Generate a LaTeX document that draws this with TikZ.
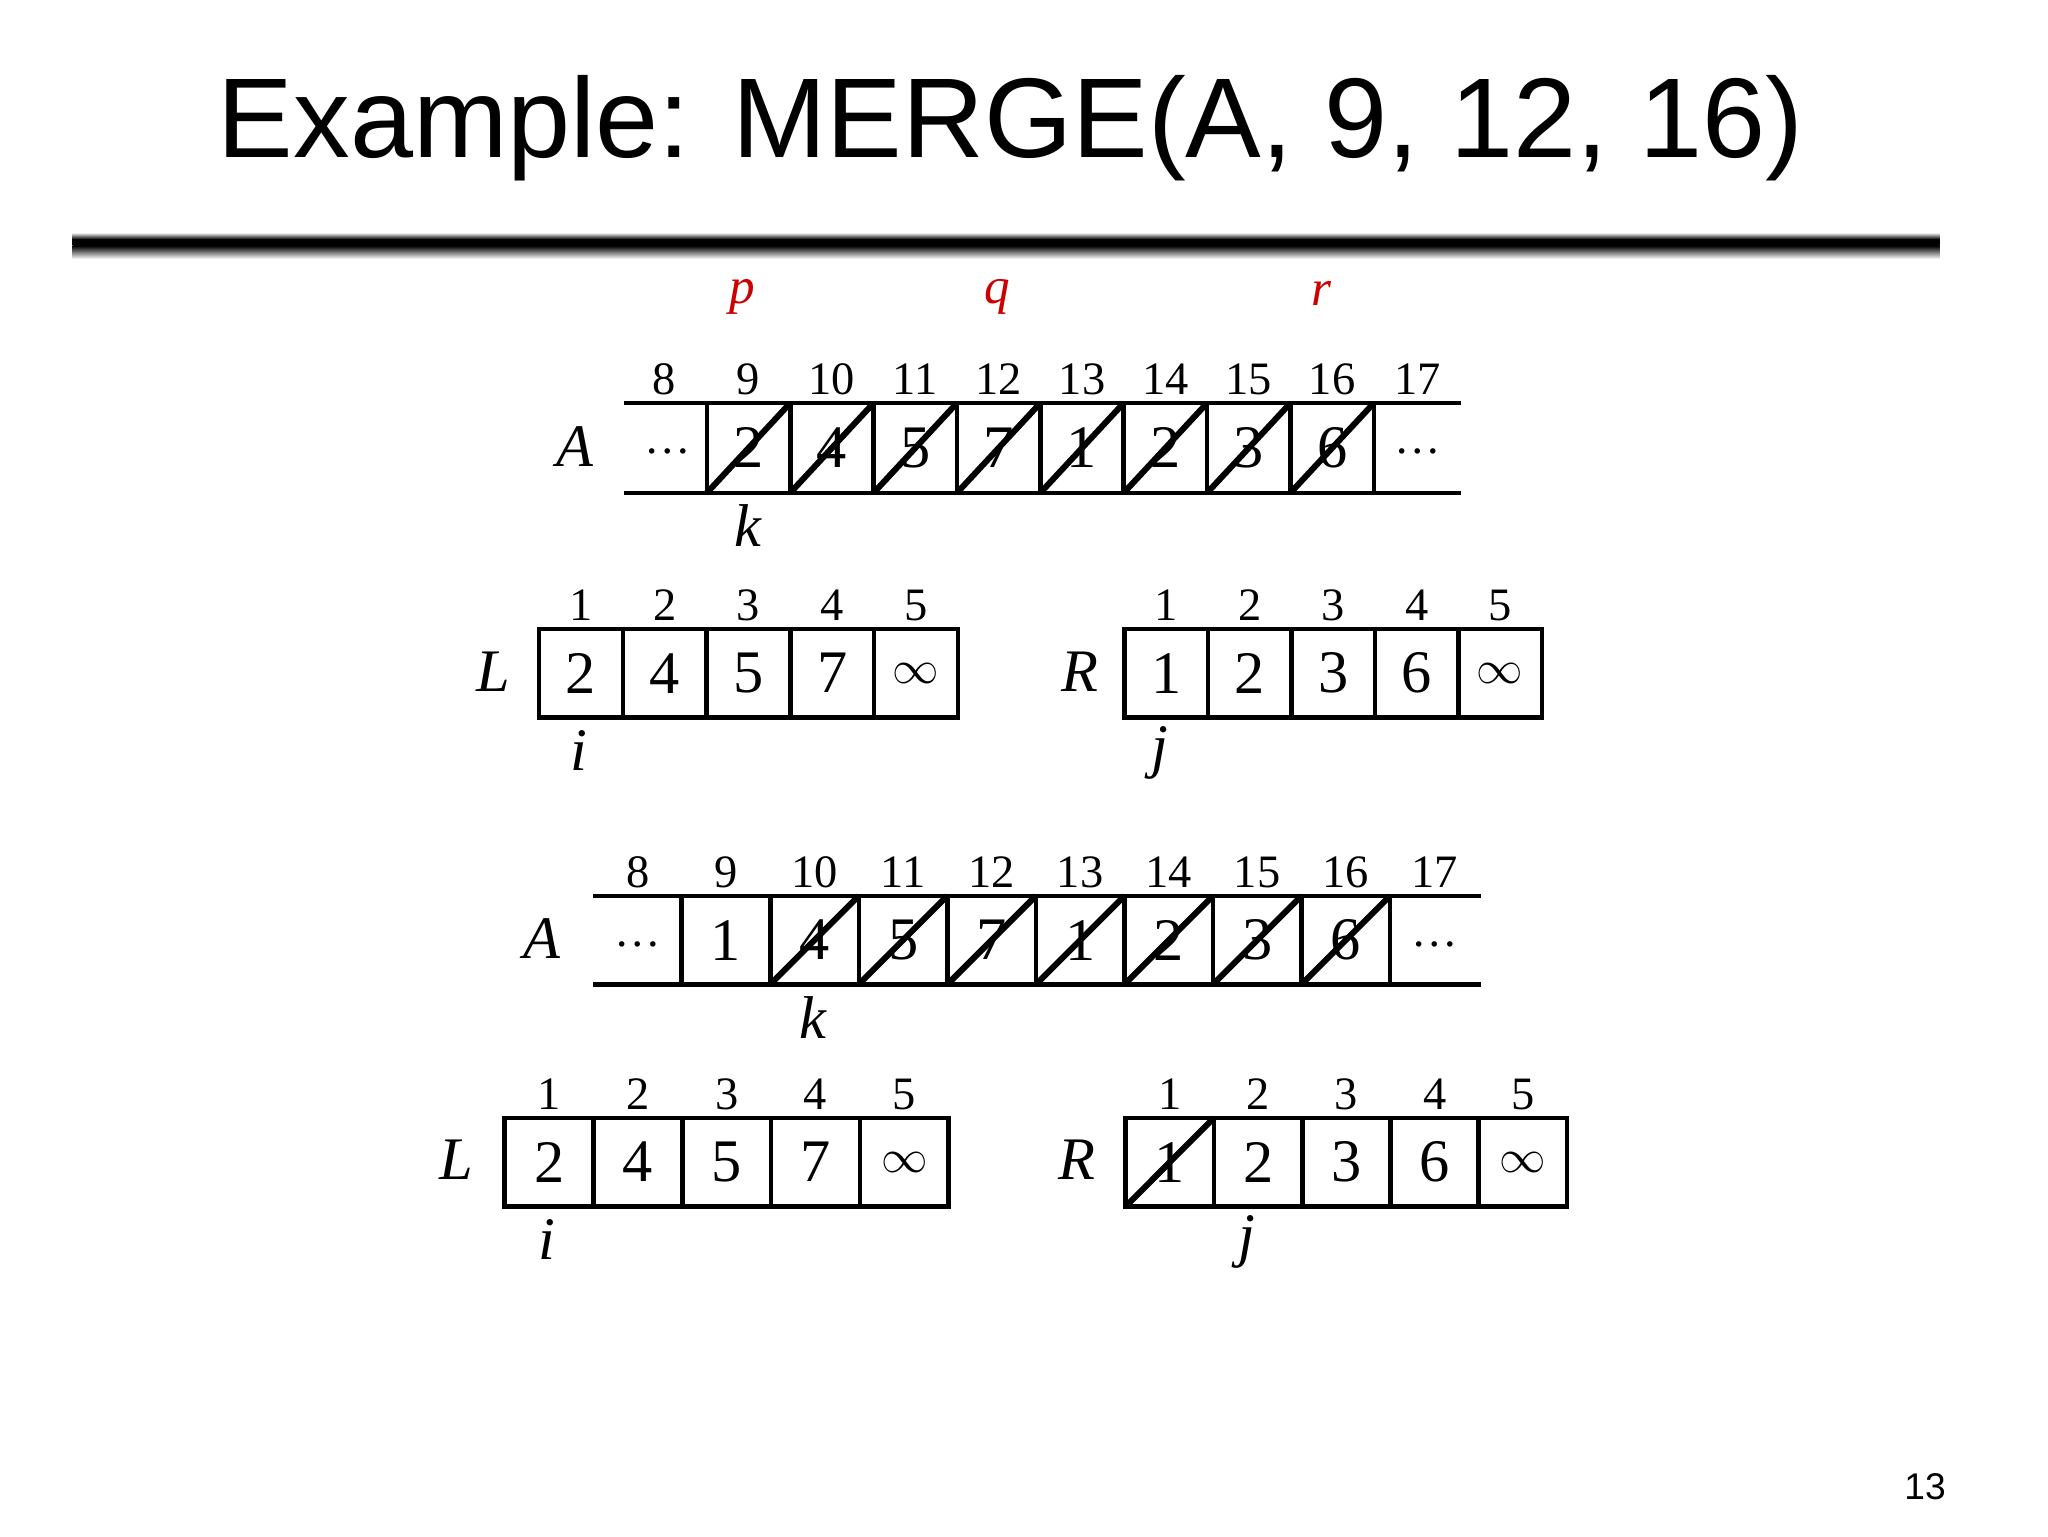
\documentclass[tikz,border=0pt]{standalone}
\usepackage{fontspec}
\setmainfont{Liberation Serif}
\newfontfamily\arialf{Liberation Sans}
\newcommand\inff{{\fontsize{10}{10}\selectfont$\infty$}}
\begin{document}
\begin{tikzpicture}[x=0.01cm,y=-0.01cm,
  cellbox/.style={draw,line width=1pt},
  strike/.style={line width=1.3pt},
  val/.style={font=\fontsize{13}{13}\selectfont},
  idx/.style={font=\fontsize{10}{10}\selectfont},
  lab/.style={font=\fontsize{13}{13}\selectfont\itshape},
  redlab/.style={font=\fontsize{11}{11}\selectfont\itshape,text=red!80!black}]
\useasboundingbox (0,0) rectangle (1550,1162.5);
\node[font=\arialf\fontsize{24.4}{26}\selectfont] (title) at (765,97) {Example: MERGE(A, 9, 12, 16)};
\shade[top color=white,bottom color=black,middle color=black] (55,176) rectangle (1468,186);
\shade[top color=black,bottom color=white] (55,186) rectangle (1468,196);
\node[font=\arialf\fontsize{8}{9}\selectfont] (pg) at (1457,1125) {13};
\node[redlab] (p) at (562,225) {p};
\node[redlab] (q) at (755,225) {q};
\node[redlab] (r) at (1000,222) {r};
\newcommand\myarr[6]{%
  \foreach \n/\v/\c [count=\k from 0] in {#6} {
    \pgfmathsetmacro\xa{#2+\k*#3}
    \pgfmathsetmacro\xb{#2+(\k+1)*#3}
    \draw[cellbox] (\xa,#4) rectangle (\xb,#5);
    \node[val] (#1v\k) at ({(\xa+\xb)/2},{(#4+#5)/2}) {\v};
    \node[idx] (#1i\k) at ({(\xa+\xb)/2},{#4-18}) {\n};
    \ifnum\c=1 \draw[strike] (\xa,#5) -- (\xb,#4);\fi
  }}
% first A
\draw[line width=1pt] (472,305) -- (1106,305) (472,373) -- (1106,373);
\myarr{aa}{535}{63.1}{305}{373}{9/2/1,10/4/1,11/5/1,12/7/1,13/1/1,14/2/1,15/3/1,16/6/1}
\node[idx] (aad1) at (505,342) {\dots};
\node[idx] (aad2) at (1073,342) {\dots};
\node[idx] (aa8) at (503,287) {8};
\node[idx] (aa17) at (1073,287) {17};
\node[lab] (A1) at (435,338) {A};
\node[lab] (k1) at (566,398) {k};
\myarr{la}{408}{63.4}{476}{543}{1/2/0,2/4/0,3/5/0,4/7/0,5/\inff/0}
\node[lab] (L1) at (373,508) {L};
\node[lab] (i1) at (438,568) {i};
\myarr{ra}{851}{63.2}{476}{543}{1/1/0,2/2/0,3/3/0,4/6/0,5/\inff/0}
\node[lab] (R1) at (817,508) {R};
\node[lab] (j1) at (878,570) {j};
% second A
\draw[line width=1pt] (449,678) -- (1121,678) (449,745) -- (1121,745);
\myarr{ab}{516}{67}{678}{745}{9/1/0,10/4/1,11/5/1,12/7/1,13/1/1,14/2/1,15/3/1,16/6/1}
\node[idx] (abd1) at (483,715) {\dots};
\node[idx] (abd2) at (1086,715) {\dots};
\node[idx] (ab8) at (483,660) {8};
\node[idx] (ab17) at (1086,660) {17};
\node[lab] (A2) at (410,710) {A};
\node[lab] (k2) at (615,770) {k};
\myarr{lb}{382}{67.2}{846}{913}{1/2/0,2/4/0,3/5/0,4/7/0,5/\inff/0}
\node[lab] (L2) at (345,878) {L};
\node[lab] (i2) at (414,938) {i};
\myarr{rb}{852}{66.8}{846}{913}{1/1/1,2/2/0,3/3/0,4/6/0,5/\inff/0}
\node[lab] (R2) at (815,878) {R};
\node[lab] (j2) at (944,940) {j};
\end{tikzpicture}
\end{document}
